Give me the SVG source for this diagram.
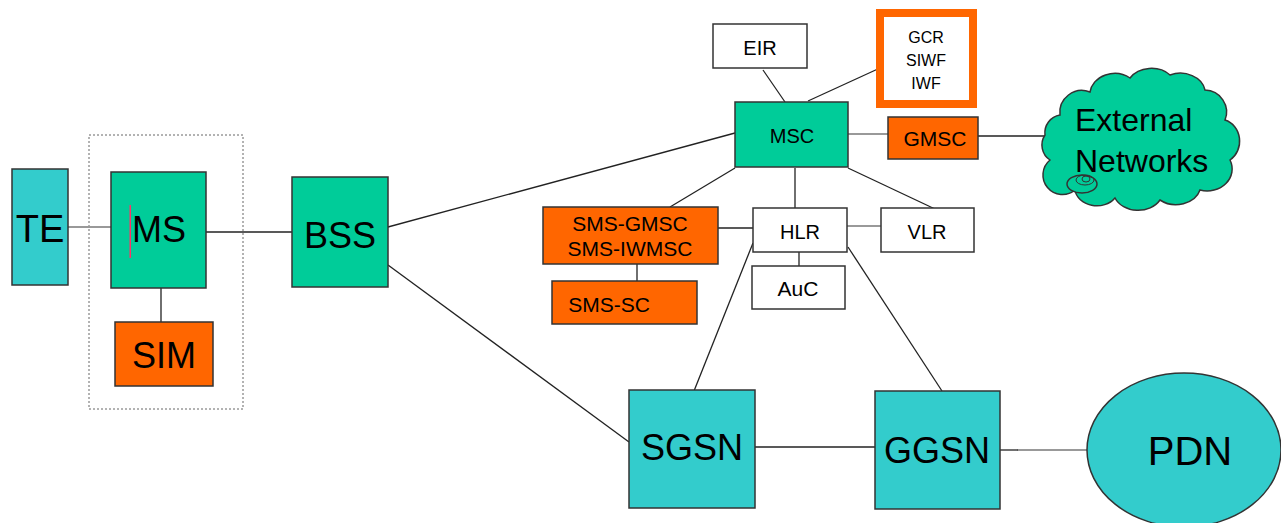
<svg xmlns="http://www.w3.org/2000/svg" width="1281" height="523" viewBox="0 0 1281 523">
<style>
.n{stroke:#333;stroke-width:1.5}
.g{fill:#00CC99}
.t{fill:#33CCCC}
.o{fill:#FF6600}
.w{fill:#fff}
text{font-family:"Liberation Sans",Arial,sans-serif;fill:#000;text-anchor:middle}
.c line{stroke:#222;stroke-width:1.3}
.c line.l{stroke:#999;stroke-width:2}
</style>
<rect width="1281" height="523" fill="#fff"/>
<rect x="89" y="135" width="154" height="274" fill="none" stroke="#666" stroke-width="1" stroke-dasharray="2,2"/>
<g class="c">
<line class="l" x1="68" y1="227" x2="111" y2="227"/>
<line x1="206" y1="232" x2="292" y2="232"/>
<line x1="161" y1="288" x2="161" y2="322"/>
<line x1="388" y1="227" x2="735" y2="133"/>
<line x1="388" y1="265" x2="629" y2="442"/>
<line x1="763" y1="70" x2="785" y2="102"/>
<line x1="880" y1="68" x2="808" y2="101"/>
<line class="l" x1="848" y1="134" x2="888" y2="134"/>
<line x1="978" y1="136" x2="1058" y2="136"/>
<line x1="735" y1="168" x2="670" y2="207"/>
<line x1="795" y1="168" x2="795" y2="208"/>
<line x1="848" y1="168" x2="935" y2="209"/>
<line x1="718" y1="228" x2="753" y2="228"/>
<line class="l" x1="847" y1="226" x2="881" y2="226"/>
<line x1="799" y1="246" x2="799" y2="266"/>
<line x1="637" y1="264" x2="637" y2="281"/>
<line x1="753" y1="243" x2="694" y2="391"/>
<line x1="848" y1="247" x2="942" y2="391"/>
<line x1="755" y1="447" x2="875" y2="447"/>
<line x1="1000" y1="450" x2="1018" y2="450"/>
<line class="l" x1="1018" y1="450" x2="1087" y2="450"/>
</g>
<g id="TE"><rect class="n t" x="12" y="169" width="56" height="116"/><text x="40" y="242" font-size="38">TE</text></g>
<g id="MS"><rect class="n g" x="111" y="172" width="95" height="116"/><rect x="129.5" y="205" width="1.5" height="53" fill="#ff3366"/><text x="159" y="242" font-size="36">MS</text></g>
<g id="SIM"><rect class="n o" x="115" y="322" width="98" height="64"/><text x="164" y="368" font-size="36">SIM</text></g>
<g id="BSS"><rect class="n g" x="292" y="177" width="96" height="110"/><text x="340" y="248" font-size="36">BSS</text></g>
<g id="EIR"><rect class="n w" x="713" y="24" width="94" height="44"/><text x="760" y="55" font-size="20">EIR</text></g>
<g id="GCR"><rect x="880" y="13" width="93" height="91" fill="#fff" stroke="#FF6600" stroke-width="8"/><text x="926" y="43" font-size="16">GCR</text><text x="926" y="66" font-size="16">SIWF</text><text x="926" y="89" font-size="16">IWF</text></g>
<g id="MSC"><rect class="n g" x="735" y="102" width="113" height="65"/><text x="792" y="143" font-size="20">MSC</text></g>
<g id="GMSC"><rect class="n o" x="888" y="117" width="90" height="42"/><text x="935" y="146" font-size="21">GMSC</text></g>
<g id="SMSGMSC"><rect class="n o" x="543" y="207" width="175" height="57"/><text x="630" y="231" font-size="21">SMS-GMSC</text><text x="630" y="256" font-size="21">SMS-IWMSC</text></g>
<g id="SMSSC"><rect class="n o" x="552" y="281" width="145" height="43"/><text x="609" y="312" font-size="21">SMS-SC</text></g>
<g id="HLR"><rect class="n w" x="753" y="208" width="94" height="44"/><text x="800" y="239" font-size="20">HLR</text></g>
<g id="VLR"><rect class="n w" x="881" y="208" width="93" height="44"/><text x="927" y="239" font-size="20">VLR</text></g>
<g id="AuC"><rect class="n w" x="752" y="266" width="93" height="43"/><text x="798" y="296" font-size="21">AuC</text></g>
<g id="SGSN"><rect class="n t" x="629" y="390" width="126" height="118"/><text x="692" y="460" font-size="36">SGSN</text></g>
<g id="GGSN"><rect class="n t" x="875" y="391" width="125" height="118"/><text x="937" y="463" font-size="36">GGSN</text></g>
<g id="PDN"><ellipse class="n t" cx="1184" cy="450" rx="97" ry="77"/><text x="1190" y="465" font-size="40">PDN</text></g>
<g id="ExternalNetworks">
<path class="n g" d="M1060,115 A22,22 0 0 1 1090,92 A25,22 0 0 1 1130,78 A25,20 0 0 1 1170,75 A25,20 0 0 1 1205,90 A22,22 0 0 1 1225,120 A20,22 0 0 1 1230,160 A25,22 0 0 1 1200,190 A25,20 0 0 1 1160,200 A25,20 0 0 1 1115,198 A22,18 0 0 1 1075,190 A18,18 0 0 1 1050,160 A18,18 0 0 1 1045,135 A18,18 0 0 1 1060,115 Z"/>
<ellipse class="n g" cx="1082" cy="184" rx="15" ry="9"/>
<ellipse fill="none" stroke="#333" cx="1085" cy="180" rx="9" ry="5"/>
<ellipse fill="none" stroke="#333" cx="1086" cy="179" rx="4" ry="3"/>
<text x="1075" y="131" font-size="32" style="text-anchor:start">External</text>
<text x="1075" y="172" font-size="32" style="text-anchor:start">Networks</text>
</g>
</svg>
